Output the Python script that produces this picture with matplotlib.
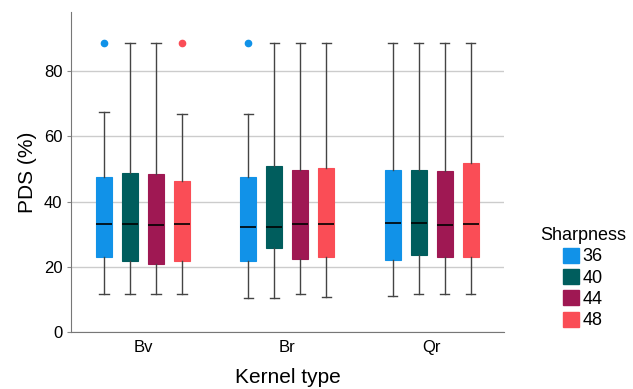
import matplotlib.pyplot as plt
from matplotlib.patches import Patch

plt.rcParams['font.family'] = ['Liberation Sans', 'DejaVu Sans']

# カテゴリと系列
kernels = ['Bv', 'Br', 'Qr']
sharpness = ['36', '40', '44', '48']
colors = ['#1192e8', '#005d5d', '#9f1853', '#fa4d56']

# 箱ひげ図の統計量: [Bv, Br, Qr] ごとに sharpness 順
whislo = [[11.7, 11.7, 11.7, 11.7], [10.5, 10.5, 11.7, 10.8], [10.9, 11.7, 11.7, 11.7]]
q1     = [[23.1, 21.8, 20.8, 21.8], [21.8, 25.7, 22.4, 23.1], [22.2, 23.7, 23.0, 23.0]]
med    = [[33.0, 33.0, 32.7, 33.0], [32.3, 32.3, 33.0, 33.0], [33.4, 33.4, 32.7, 33.2]]
q3     = [[47.4, 48.9, 48.6, 46.4], [47.4, 51.0, 49.8, 50.2], [49.7, 49.7, 49.5, 51.9]]
whishi = [[67.6, 88.7, 88.7, 66.9], [66.9, 88.7, 88.7, 88.7], [88.7, 88.7, 88.7, 88.7]]
fliers = [[[88.7], [], [], [88.7]], [[88.7], [], [], []], [[], [], [], []]]

fig = plt.figure(figsize=(6.33, 3.89), dpi=100)
ax = fig.add_axes([0.112, 0.1465, 0.684, 0.8215])

offsets = [-0.27, -0.09, 0.09, 0.27]
for g in range(len(kernels)):
    for s in range(len(sharpness)):
        stats = [dict(whislo=whislo[g][s], q1=q1[g][s], med=med[g][s],
                      q3=q3[g][s], whishi=whishi[g][s], fliers=fliers[g][s])]
        ax.bxp(stats, positions=[g + offsets[s]], widths=0.11, capwidths=0.065,
               patch_artist=True, showfliers=True,
               boxprops=dict(facecolor=colors[s], edgecolor=colors[s], linewidth=0.8),
               medianprops=dict(color='black', linewidth=1.2),
               whiskerprops=dict(color='#444444', linewidth=1.0),
               capprops=dict(color='#444444', linewidth=1.0),
               flierprops=dict(marker='o', markerfacecolor=colors[s],
                               markeredgecolor=colors[s], markersize=4.5))

ax.set_xlim(-0.5, 2.5)
ax.set_ylim(0, 98)
ax.set_xticks(range(len(kernels)))
ax.set_xticklabels(kernels, fontsize=12)
ax.set_yticks([0, 20, 40, 60, 80])
ax.tick_params(axis='y', labelsize=12, length=3, color='#888888', pad=3)
ax.tick_params(axis='x', length=0, pad=6)
ax.yaxis.grid(True, color='#cccccc', linewidth=1.0)
ax.set_axisbelow(True)
for side in ['top', 'right']:
    ax.spines[side].set_visible(False)
for side in ['left', 'bottom']:
    ax.spines[side].set_color('#777777')

ax.set_xlabel('Kernel type', fontsize=15, labelpad=9)
ax.set_ylabel('PDS (%)', fontsize=15, labelpad=5)

handles = [Patch(facecolor=c, edgecolor=c) for c in colors]
leg = fig.legend(handles, sharpness, title='Sharpness', loc='center left',
                 bbox_to_anchor=(0.827, 0.285), frameon=False, fontsize=13,
                 title_fontsize=13, handlelength=0.9, handleheight=0.9,
                 handletextpad=0.15, labelspacing=0.2)

plt.savefig('out.png', dpi=100)
